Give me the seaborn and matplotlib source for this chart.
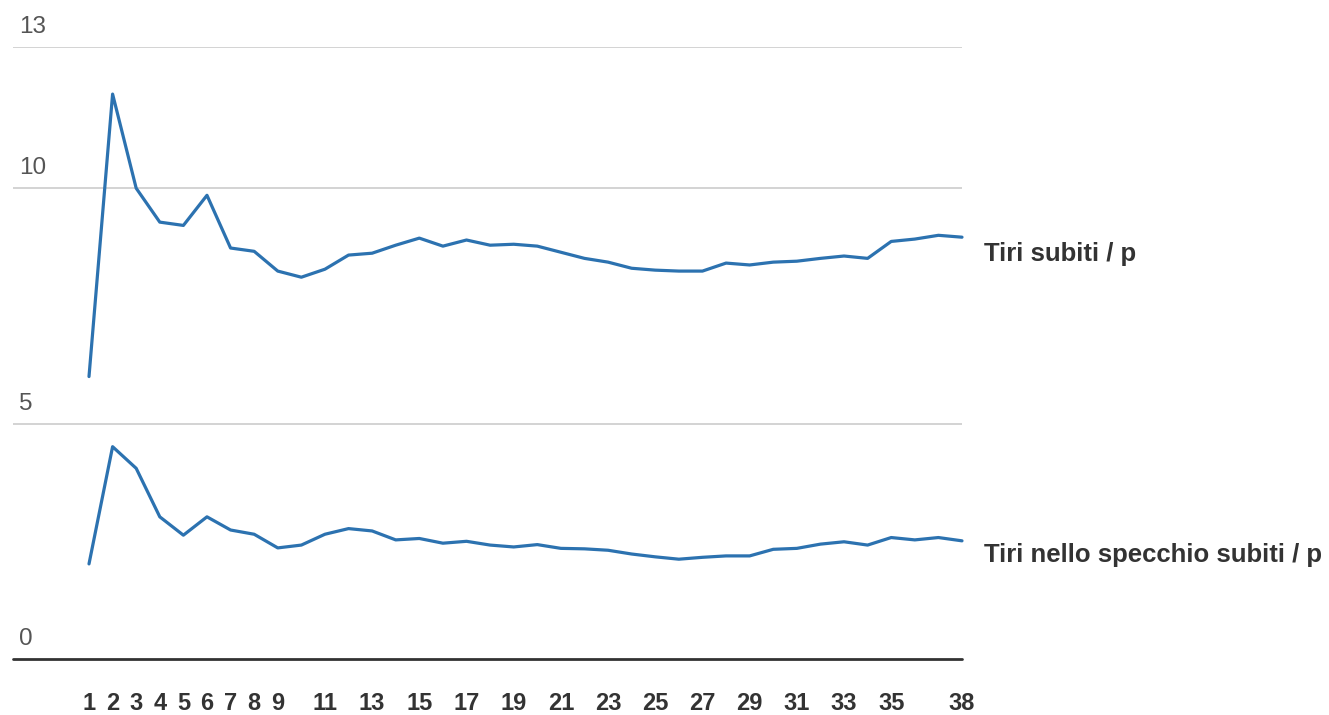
import pandas as pd
import matplotlib.pyplot as plt
import seaborn as sns

# ---------------------------
# Data
# ---------------------------

giornate = list(range(1, 39))

tiri_subiti = [
    6.0, 12.0, 10.0, 9.28, 9.21, 9.85, 8.73, 8.66, 8.24, 8.11,
    8.28, 8.58, 8.62, 8.79, 8.94, 8.77, 8.90, 8.79, 8.81, 8.77,
    8.64, 8.51, 8.43, 8.30, 8.26, 8.24, 8.24, 8.41, 8.37, 8.43,
    8.45, 8.51, 8.56, 8.51, 8.87, 8.92, 9.00, 8.96,
]

tiri_specchio = [
    2.02, 4.51, 4.05, 3.02, 2.63, 3.02, 2.74, 2.65, 2.36, 2.42,
    2.65, 2.77, 2.72, 2.53, 2.56, 2.46, 2.50, 2.42, 2.38, 2.43,
    2.35, 2.34, 2.31, 2.23, 2.17, 2.12, 2.16, 2.19, 2.19, 2.33,
    2.35, 2.44, 2.49, 2.42, 2.58, 2.53, 2.58, 2.51,
]

series_names = ["Tiri subiti / p", "Tiri nello specchio subiti / p"]

x_ticks = list(range(1, 10)) + list(range(11, 36, 2)) + [38]
x_tick_labels = [str(t) for t in x_ticks]

y_grid = [5, 10, 13]
y_labels = ["0", "5", "10", "13"]

# ---------------------------
# Plot
# ---------------------------

sns.set_style("white")
plt.rcParams["font.family"] = ["Liberation Sans", "DejaVu Sans"]

LINE = "#2c72b0"

df = pd.DataFrame({
    "giornata": giornate * 2,
    "valore": tiri_subiti + tiri_specchio,
    "serie": [series_names[0]] * len(giornate) + [series_names[1]] * len(giornate),
})

fig = plt.figure(figsize=(13.29, 7.15), dpi=100)
ax = fig.add_axes([13 / 1329, 1 - 659 / 715, (962 - 13) / 1329, (659 - 47) / 715])

for y in y_grid:
    ax.axhline(y, color="#cccccc", lw=1.2, zorder=0)
ax.axhline(0, color="#333333", lw=2, zorder=3, clip_on=False)

sns.lineplot(data=df, x="giornata", y="valore", hue="serie",
             palette=[LINE, LINE], lw=2.3, legend=False, ax=ax,
             clip_on=False, zorder=4)

x_left = 1 - 76 / (873 / 37)
ax.set_xlim(x_left, 38)
ax.set_ylim(0, 13)

for s in ax.spines.values():
    s.set_visible(False)

ax.set_xticks(x_ticks)
ax.set_xticklabels(x_tick_labels, fontsize=17, fontweight="bold", color="#333333")
ax.tick_params(axis="x", length=0, pad=24)
ax.set_yticks([])
ax.set_xlabel("")
ax.set_ylabel("")

# y labels sit above their gridlines, inside the plot
for lab, y in zip(y_labels, [0] + y_grid):
    ax.annotate(lab, xy=(0, y), xycoords=("axes fraction", "data"),
                xytext=(4.5, 10), textcoords="offset points",
                ha="left", va="baseline", fontsize=17.5, color="#555555")

# series labels at the right end of each line
for name, vals, dy in zip(series_names, [tiri_subiti, tiri_specchio], [-17, -15]):
    ax.annotate(name, xy=(giornate[-1], vals[-1]), xycoords="data",
                xytext=(16, dy), textcoords="offset points",
                ha="left", va="baseline", fontsize=18.5,
                fontweight="bold", color="#333333", annotation_clip=False)

fig.savefig("out.png", dpi=100)
